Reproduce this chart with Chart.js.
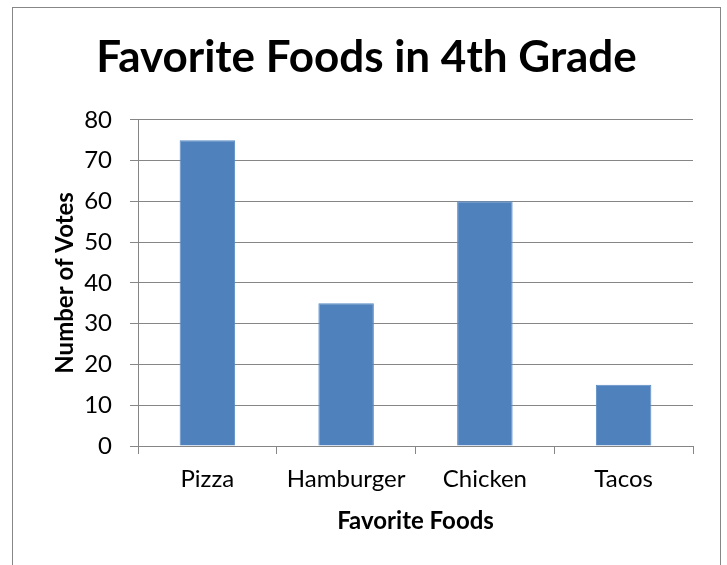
<!DOCTYPE html>
<html lang="en">
<head>
    <meta charset="UTF-8">
    <title>Favorite Foods in 4th Grade</title>
    <script src="https://cdn.jsdelivr.net/npm/chart.js"></script>
    <style>
        body {
            margin: 0;
            background: #fff;
            overflow: hidden;
        }
        .frame {
            position: absolute;
            left: 12px;
            top: 7px;
            width: 707px;
            height: 600px;
            border: 1px solid #878787;
        }
        #foodChart {
            position: absolute;
            left: 0;
            top: 0;
        }
    </style>
</head>
<body>
    <div class="frame"></div>
    <canvas id="foodChart" width="727" height="565"></canvas>

    <script>
        // Vote counts per food
        const foods = ['Pizza', 'Hamburger', 'Chicken', 'Tacos'];
        const votes = [75, 35, 60, 15];

        const axisGray = '#868686';
        const fontFamily = 'Lato, "Open Sans", sans-serif';

        new Chart(document.getElementById('foodChart'), {
            type: 'bar',
            data: {
                labels: foods,
                datasets: [{
                    label: 'Number of Votes',
                    data: votes,
                    backgroundColor: '#4F81BD',
                    borderColor: '#5B8CC6',
                    borderWidth: 1,
                    categoryPercentage: 1,
                    barPercentage: 0.4
                }]
            },
            options: {
                responsive: false,
                animation: false,
                layout: {
                    padding: { left: 40, right: 34, top: 0, bottom: 0 }
                },
                plugins: {
                    legend: { display: false },
                    tooltip: { enabled: false },
                    title: {
                        display: true,
                        text: 'Favorite Foods in 4th Grade',
                        color: '#000',
                        font: { family: fontFamily, size: 44, weight: 'bold' },
                        padding: { top: 31, bottom: 36 }
                    }
                },
                scales: {
                    x: {
                        afterFit: scale => { scale.height = 119; },
                        grid: {
                            display: true,
                            drawOnChartArea: false,
                            color: axisGray,
                            tickLength: 8,
                            tickWidth: 1
                        },
                        border: { color: axisGray, width: 1 },
                        ticks: {
                            color: '#000',
                            padding: 11,
                            font: { family: fontFamily, size: 24 }
                        },
                        title: {
                            display: true,
                            text: 'Favorite Foods',
                            color: '#000',
                            font: { family: fontFamily, size: 24, weight: 'bold' },
                            padding: { top: 0, bottom: 29 }
                        }
                    },
                    y: {
                        min: 0,
                        max: 80,
                        afterFit: scale => { scale.width = 98; },
                        grid: {
                            color: axisGray,
                            tickLength: 8,
                            lineWidth: 1
                        },
                        border: { color: axisGray, width: 1 },
                        ticks: {
                            stepSize: 10,
                            color: '#000',
                            padding: 18,
                            font: { family: fontFamily, size: 24 }
                        },
                        title: {
                            display: true,
                            text: 'Number of Votes',
                            color: '#000',
                            font: { family: fontFamily, size: 24, weight: 'bold' },
                            padding: { top: 11, bottom: 0 }
                        }
                    }
                }
            }
        });
    </script>
</body>
</html>
